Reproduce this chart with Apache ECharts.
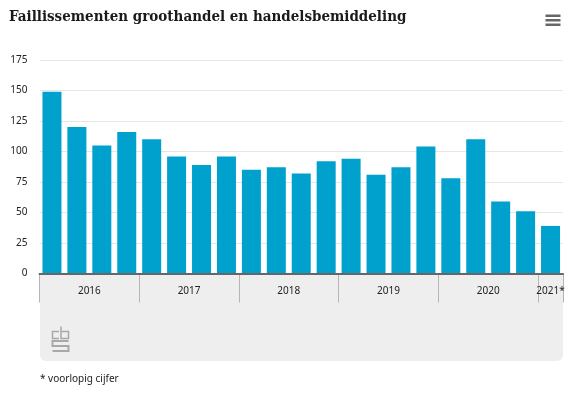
<!DOCTYPE html>
<html>
<head>
<meta charset="utf-8">
<title>Faillissementen groothandel en handelsbemiddeling</title>
<script src="https://cdn.jsdelivr.net/npm/echarts@6/dist/echarts.min.js"></script>
<style>
html, body { margin: 0; padding: 0; background: #ffffff; }
#chart { width: 578px; height: 394px; }
</style>
</head>
<body>
<div id="chart"></div>
<script>
// kwartalen 2016 t/m 2021 (eerste kwartaal)
var quarters = ['2016 K1', '2016 K2', '2016 K3', '2016 K4',
    '2017 K1', '2017 K2', '2017 K3', '2017 K4',
    '2018 K1', '2018 K2', '2018 K3', '2018 K4',
    '2019 K1', '2019 K2', '2019 K3', '2019 K4',
    '2020 K1', '2020 K2', '2020 K3', '2020 K4',
    '2021 K1*'];
var bankruptcies = [149, 120, 105, 116, 110, 96, 89, 96, 85, 87, 82, 92, 94, 81, 87, 104, 78, 110, 59, 51, 39];
var yearLabels = ['2016', '2017', '2018', '2019', '2020', '2021*'];
var yearCounts = [4, 4, 4, 4, 4, 1];

var labelFont = '"Noto Sans", sans-serif';

// jaargrenzen en jaarmiddens in kwartaal-eenheden
var yearEdges = [0];
var yearCenters = [];
yearCounts.forEach(function(n, i) {
    yearCenters.push(yearEdges[i] + n / 2);
    yearEdges.push(yearEdges[i] + n);
});

var myChart = echarts.init(document.getElementById('chart'));

var option = {
    animation: false,
    backgroundColor: '#ffffff',
    title: {
        text: 'Faillissementen groothandel en handelsbemiddeling',
        left: 4,
        top: 5,
        textStyle: {
            fontFamily: '"DejaVu Serif Condensed", "DejaVu Serif", serif',
            fontSize: 15,
            fontWeight: 'bold',
            color: '#1a1a1a'
        }
    },
    grid: { left: 39.5, right: 15, top: 60, bottom: 120.5 },
    xAxis: [
        {
            type: 'category',
            data: quarters,
            axisLine: { lineStyle: { color: '#666666', width: 2 } },
            axisTick: { length: 9, lineStyle: { color: '#b5b5b5' } },
            axisLabel: { show: false },
            z: 5
        },
        {
            // jaaras: alleen de lange streepjes en de jaartallen
            type: 'value',
            position: 'bottom',
            min: 0,
            max: quarters.length,
            axisLine: { show: false },
            splitLine: { show: false },
            axisTick: {
                show: true,
                length: 29,
                customValues: yearEdges,
                lineStyle: { color: '#b5b5b5' }
            },
            axisLabel: {
                show: true,
                margin: 13,
                customValues: yearCenters,
                fontFamily: labelFont,
                fontSize: 10,
                color: '#222222',
                formatter: function(value) {
                    return yearLabels[yearCenters.indexOf(value)];
                }
            }
        }
    ],
    yAxis: {
        type: 'value',
        min: 0,
        max: 175,
        interval: 25,
        axisLine: { show: false },
        axisTick: { show: false },
        axisLabel: {
            margin: 12,
            fontFamily: labelFont,
            fontSize: 10,
            color: '#222222'
        },
        splitLine: { lineStyle: { color: '#e6e6e6', width: 1 } }
    },
    series: [
        {
            type: 'bar',
            data: bankruptcies,
            barWidth: 19,
            itemStyle: { color: '#00a1cd' }
        }
    ],
    graphic: [
        // grijs vlak onder de as
        {
            type: 'rect',
            z: -10,
            shape: { x: 40, y: 273, width: 523, height: 88, r: [0, 0, 6, 6] },
            style: { fill: '#eeeeee' }
        },
        // menuknop
        { type: 'rect', shape: { x: 545.5, y: 14.5, width: 15, height: 2.5 }, style: { fill: '#666666' } },
        { type: 'rect', shape: { x: 545.5, y: 19, width: 15, height: 2.5 }, style: { fill: '#666666' } },
        { type: 'rect', shape: { x: 545.5, y: 23.5, width: 15, height: 2.5 }, style: { fill: '#666666' } },
        // cbs-logo
        {
            type: 'group',
            left: 50,
            top: 324,
            children: [
                { type: 'polyline', shape: { points: [[7, 5], [0.5, 5], [0.5, 12], [7, 12]] }, style: { fill: 'none', stroke: '#a8a8a8', lineWidth: 1.5 } },
                { type: 'polyline', shape: { points: [[9, 0], [9, 12], [16.5, 12], [16.5, 5], [9, 5]] }, style: { fill: 'none', stroke: '#a8a8a8', lineWidth: 1.5 } },
                { type: 'polyline', shape: { points: [[16.5, 14.5], [0.5, 14.5], [0.5, 19.5], [16.5, 19.5], [16.5, 24.5], [0.5, 24.5]] }, style: { fill: 'none', stroke: '#a8a8a8', lineWidth: 2 } }
            ]
        },
        // voetnoot
        {
            type: 'text',
            left: 40,
            top: 374,
            style: {
                text: '* voorlopig cijfer',
                fontFamily: labelFont,
                fontSize: 10,
                fill: '#222222'
            }
        }
    ]
};

myChart.setOption(option);
</script>
</body>
</html>
